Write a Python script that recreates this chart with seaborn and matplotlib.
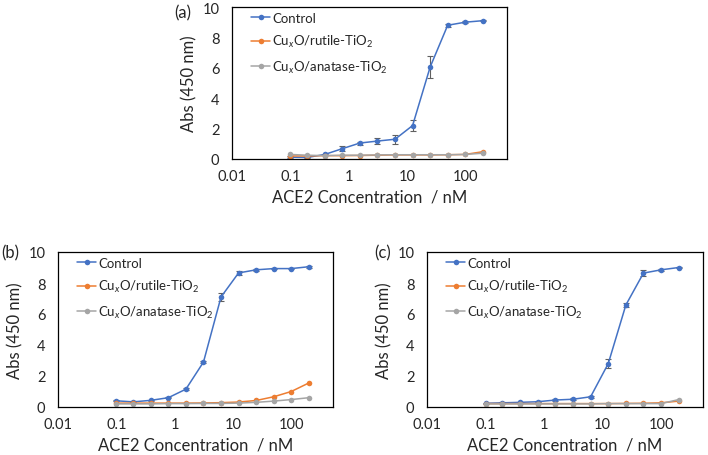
import numpy as np
import pandas as pd
import matplotlib
matplotlib.use('Agg')
import matplotlib.pyplot as plt
import seaborn as sns

# ACE2 concentrations (two-fold dilutions, nM)
conc = [0.1, 0.195, 0.39, 0.78, 1.56, 3.125, 6.25, 12.5, 25, 50, 100, 200]
samples = ['Control', 'Cu$_x$O/rutile-TiO$_2$', 'Cu$_x$O/anatase-TiO$_2$']

# panel (a)
a_control = [0.12, 0.1, 0.3, 0.68, 1.05, 1.18, 1.3, 2.2, 6.05, 8.8, 9.0, 9.1]
a_control_err = [0.05, 0.05, 0.05, 0.15, 0.1, 0.22, 0.3, 0.35, 0.7, 0.1, 0.05, 0.05]
a_rutile = [0.2, 0.2, 0.22, 0.22, 0.23, 0.25, 0.27, 0.27, 0.27, 0.28, 0.3, 0.48]
a_anatase = [0.3, 0.25, 0.22, 0.25, 0.25, 0.27, 0.28, 0.28, 0.28, 0.28, 0.3, 0.38]

# panel (b)
b_control = [0.4, 0.33, 0.43, 0.6, 1.15, 2.9, 7.1, 8.65, 8.85, 8.93, 8.93, 9.05]
b_control_err = [0.03, 0.03, 0.03, 0.05, 0.05, 0.08, 0.25, 0.12, 0.05, 0.05, 0.05, 0.05]
b_rutile = [0.25, 0.25, 0.25, 0.25, 0.25, 0.26, 0.28, 0.32, 0.42, 0.66, 1.0, 1.55]
b_anatase = [0.2, 0.2, 0.2, 0.22, 0.22, 0.23, 0.23, 0.25, 0.3, 0.38, 0.48, 0.6]

# panel (c)
c_control = [0.24, 0.27, 0.3, 0.34, 0.45, 0.5, 0.66, 2.8, 6.58, 8.64, 8.85, 9.0]
c_control_err = [0.03, 0.03, 0.03, 0.03, 0.05, 0.05, 0.05, 0.3, 0.1, 0.2, 0.05, 0.05]
c_rutile = [0.22, 0.22, 0.22, 0.22, 0.22, 0.22, 0.22, 0.22, 0.23, 0.24, 0.27, 0.38]
c_anatase = [0.2, 0.2, 0.2, 0.2, 0.2, 0.2, 0.2, 0.22, 0.22, 0.22, 0.22, 0.48]

palette = ['#4472C4', '#ED7D31', '#A5A5A5']

sns.set_style('white')
plt.rcParams['font.family'] = ['Lato', 'DejaVu Sans']
plt.rcParams['mathtext.fontset'] = 'custom'
plt.rcParams['mathtext.rm'] = 'Lato'
plt.rcParams['mathtext.it'] = 'Lato:italic'

fig = plt.figure(figsize=(7.08, 4.56), dpi=100)
W, H = 708, 456
boxes = {
    'a': (232, 8, 275, 152),
    'b': (58, 253, 275, 155),
    'c': (427, 253, 276, 155),
}
tags = {'a': (174, 13), 'b': (1, 253), 'c': (374, 253)}
panels = {
    'a': (a_control, a_control_err, a_rutile, a_anatase),
    'b': (b_control, b_control_err, b_rutile, b_anatase),
    'c': (c_control, c_control_err, c_rutile, c_anatase),
}

for key, (ctl, err, rut, ana) in panels.items():
    x0, y0, w, h = boxes[key]
    ax = fig.add_axes([x0 / W, (H - y0 - h) / H, w / W, h / H])
    df = pd.DataFrame({
        'conc': conc * 3,
        'abs': ctl + rut + ana,
        'sample': [samples[0]] * 12 + [samples[1]] * 12 + [samples[2]] * 12,
    })
    sns.lineplot(data=df, x='conc', y='abs', hue='sample', palette=palette,
                 marker='o', markersize=4, markeredgewidth=0, linewidth=1.1,
                 ax=ax)
    ax.errorbar(conc, ctl, yerr=err, fmt='none', ecolor='#606060',
                elinewidth=0.8, capsize=2, capthick=0.8, zorder=1)
    ax.set_xscale('log')
    ax.set_xlim(0.01, 520)
    ax.set_ylim(0, 10)
    ax.set_xticks([0.01, 0.1, 1, 10, 100])
    ax.set_xticklabels(['0.01', '0.1', '1', '10', '100'])
    ax.xaxis.set_minor_locator(matplotlib.ticker.NullLocator())
    ax.set_yticks([0, 2, 4, 6, 8, 10])
    ax.tick_params(axis='x', direction='in', length=2.5, width=0.8,
                   labelsize=10.5, pad=7, color='black')
    ax.tick_params(axis='y', direction='in', length=2.5, width=0.8,
                   labelsize=10.5, pad=9, color='black')
    for s in ax.spines.values():
        s.set_color('black')
        s.set_linewidth(0.9)
    ax.set_xlabel('ACE2 Concentration  / nM', fontsize=12, labelpad=4)
    ax.set_ylabel('Abs (450 nm)', fontsize=12, labelpad=4)
    ax.legend(loc='upper left', frameon=False, fontsize=9.5,
              handlelength=1.45, handletextpad=0.15, labelspacing=0.7,
              borderpad=0, borderaxespad=0,
              bbox_to_anchor=(19 / w, 1 - 5 / h))
    tx, ty = tags[key]
    fig.text(tx / W, 1 - ty / H, '(%s)' % key, fontsize=12,
             va='center', ha='left')

fig.savefig('out.png', dpi=100)
